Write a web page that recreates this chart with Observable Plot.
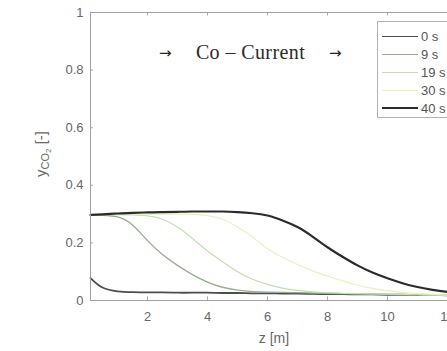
<!DOCTYPE html>
<html>
<head>
<meta charset="utf-8">
<script src="https://cdn.jsdelivr.net/npm/d3@7"></script>
<script src="https://cdn.jsdelivr.net/npm/@observablehq/plot@0.6"></script>
<style>
  html, body { margin: 0; padding: 0; background: white; }
  #wrap { position: relative; width: 447px; height: 351px; overflow: hidden; }
  #wrap svg { display: block; overflow: hidden; }
  .ov { position: absolute; white-space: nowrap; }
  #title { left: 159px; top: 41px; width: 183px; font-family: "Liberation Serif", serif; font-size: 20px; letter-spacing: 0.4px; color: #2a2a2a; display: flex; justify-content: space-between; align-items: center; }
  #title .arr { font-size: 15px; color: #222; font-family: "DejaVu Sans", sans-serif; }
  #ylab { left: 42px; top: 154px; transform: translate(-50%, -50%) rotate(-90deg); font-family: "Liberation Sans", Arial, sans-serif; font-size: 15px; color: #666; }
  #ylab sub { font-size: 11px; vertical-align: -3px; }
  #ylab sub sub { font-size: 8px; vertical-align: -2px; }
  #xlab { left: 274px; top: 338px; transform: translate(-50%, -50%); font-family: "Liberation Sans", Arial, sans-serif; font-size: 14px; color: #666; }
  #legend { left: 377px; top: 21px; width: 90px; height: 97px; border: 1px solid #b0b0b0; background: white; box-sizing: border-box; }
  .lrow { position: absolute; left: 4px; height: 18px; display: flex; align-items: center; font-family: "Liberation Sans", Arial, sans-serif; font-size: 13px; color: #555; }
  .lrow .sw { width: 36px; margin-right: 3px; }
</style>
</head>
<body>
<div id="wrap"></div>
<script>
// Data
const zGrid = [0.1, 0.5, 1, 1.5, 2, 2.5, 3, 3.5, 4, 4.5, 5, 5.5, 6, 6.5, 7, 7.5, 8, 8.5, 9, 9.5, 10, 10.5, 11, 11.5, 12, 12.5];
const seriesNames = ["0 s", "9 s", "19 s", "30 s", "40 s"];
const y0s  = [0.078, 0.045, 0.032, 0.029, 0.028, 0.028, 0.027, 0.027, 0.027, 0.026, 0.026, 0.025, 0.025, 0.024, 0.024, 0.023, 0.022, 0.022, 0.021, 0.021, 0.020, 0.020, 0.019, 0.019, 0.018, 0.018];
const y9s  = [0.298, 0.296, 0.290, 0.262, 0.208, 0.160, 0.122, 0.090, 0.064, 0.046, 0.036, 0.031, 0.029, 0.028, 0.027, 0.026, 0.025, 0.024, 0.023, 0.022, 0.021, 0.020, 0.020, 0.019, 0.018, 0.018];
const y19s = [0.298, 0.298, 0.298, 0.297, 0.294, 0.282, 0.255, 0.215, 0.172, 0.135, 0.100, 0.074, 0.056, 0.043, 0.035, 0.030, 0.027, 0.025, 0.024, 0.023, 0.022, 0.021, 0.020, 0.019, 0.018, 0.018];
const y30s = [0.298, 0.299, 0.300, 0.300, 0.300, 0.300, 0.300, 0.299, 0.295, 0.282, 0.255, 0.220, 0.180, 0.150, 0.125, 0.103, 0.085, 0.068, 0.053, 0.042, 0.034, 0.028, 0.024, 0.021, 0.019, 0.018];
const y40s = [0.297, 0.299, 0.302, 0.304, 0.306, 0.307, 0.308, 0.309, 0.309, 0.309, 0.307, 0.303, 0.295, 0.278, 0.255, 0.222, 0.185, 0.152, 0.122, 0.097, 0.077, 0.060, 0.047, 0.037, 0.030, 0.025];
const seriesValues = [y0s, y9s, y19s, y30s, y40s];
const xTicks = [2, 4, 6, 8, 10, 12];
const yTicks = [0, 0.2, 0.4, 0.6, 0.8, 1];

const colors = ["#4d4d4d", "#93ae8e", "#c3dfab", "#e9f0bd", "#2b2b2b"];
const widths = [1.8, 1.3, 1.2, 1.2, 2.2];

const lineMarks = seriesNames.map((name, i) =>
  Plot.line(zGrid.map((z, j) => ({z, y: seriesValues[i][j]})), {
    x: "z", y: "y", stroke: colors[i], strokeWidth: widths[i], curve: "natural"
  })
);

const chart = Plot.plot({
  width: 447, height: 351,
  marginLeft: 90, marginRight: -15, marginTop: 12, marginBottom: 51,
  x: {domain: [0.1, 12.5]},
  y: {domain: [0, 1]},
  style: {background: "white", fontFamily: "'Liberation Sans', Arial, sans-serif", fontSize: "13px", color: "#666", overflow: "hidden"},
  marks: [
    Plot.ruleX(xTicks, {y1: 0, y2: 0.012, stroke: "#aaa"}),
    Plot.ruleX(xTicks, {y1: 1, y2: 0.988, stroke: "#aaa"}),
    Plot.ruleY(yTicks, {x1: 0.1, x2: 0.2, stroke: "#aaa"}),
    ...lineMarks,
    Plot.frame({stroke: "#a0a0a0"}),
    Plot.axisX(xTicks, {tickSize: 0, tickPadding: 11, label: null, fontSize: 13}),
    Plot.axisY(yTicks, {tickSize: 0, tickPadding: 7, label: null, fontSize: 13, tickFormat: d => String(d)})
  ]
});

const wrap = document.getElementById("wrap");
wrap.appendChild(chart);

// Annotation, axis labels and legend
const title = document.createElement("div");
title.id = "title"; title.className = "ov";
title.innerHTML = '<span class="arr">→</span><span>Co – Current</span><span class="arr">→</span>';
wrap.appendChild(title);

const ylab = document.createElement("div");
ylab.id = "ylab"; ylab.className = "ov";
ylab.innerHTML = 'y<sub>CO<sub>2</sub></sub> [-]';
wrap.appendChild(ylab);

const xlab = document.createElement("div");
xlab.id = "xlab"; xlab.className = "ov";
xlab.textContent = "z [m]";
wrap.appendChild(xlab);

const legend = document.createElement("div");
legend.id = "legend"; legend.className = "ov";
seriesNames.forEach((name, i) => {
  const row = document.createElement("div");
  row.className = "lrow";
  row.style.top = (5 + i * 18) + "px";
  const sw = document.createElement("div");
  sw.className = "sw";
  sw.style.borderTop = widths[i] + "px solid " + colors[i];
  row.appendChild(sw);
  const t = document.createElement("span");
  t.textContent = name;
  row.appendChild(t);
  legend.appendChild(row);
});
wrap.appendChild(legend);
</script>
</body>
</html>
